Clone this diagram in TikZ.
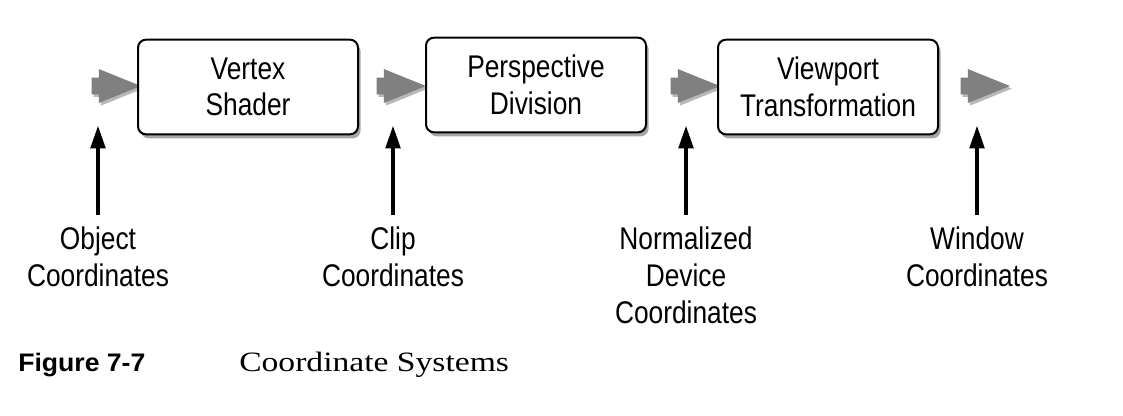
\documentclass[tikz,border=0pt]{standalone}
\usepackage{fontspec}
\setmainfont{Liberation Sans}
\newfontfamily\narrowsans[FakeStretch=0.84]{Liberation Sans}
\newfontfamily\figsans[FakeStretch=1.05]{Liberation Sans}
\newfontfamily\figserif[FakeStretch=1.2]{Liberation Serif}
\usetikzlibrary{shapes.arrows,shadows,arrows.meta}

\tikzset{
	stage/.style={draw=black, line width=1.5pt, rounded corners=6pt, fill=white,
		minimum width=165pt, minimum height=71pt, align=center,
		font=\narrowsans\fontsize{23.5}{27.5}\selectfont,
		drop shadow={shadow xshift=2pt, shadow yshift=-3pt, opacity=.35, fill=black}},
	flow/.style={single arrow, fill=black!50, draw=none,
		inner xsep=0pt, inner ysep=6pt, text height=0pt, text depth=0pt,
		minimum height=37pt, single arrow head extend=6.5pt, single arrow tip angle=44,
		drop shadow={shadow xshift=1.5pt, shadow yshift=-2pt, fill=black!28, opacity=1}},
	coordlbl/.style={align=center, anchor=north, inner xsep=0pt, inner ysep=9pt,
		font=\narrowsans\fontsize{23.5}{27.75}\selectfont},
	ptr/.style={-{Triangle[length=17pt,width=11pt]}, line width=2.5pt, shorten >=19pt}
}

\begin{document}
\begin{tikzpicture}[x=0.75pt, y=-0.75pt]
	\useasboundingbox (0,0) rectangle (1123,415);
	% pipeline
	\node[flow] (inarr) at (106,86) {};
	\node[stage] (vs) at (248,87) {Vertex\\Shader};
	\node[flow] (cliparr) at (391,86) {};
	\node[stage] (pd) at (536,85) {Perspective\\Division};
	\node[flow] (ndcarr) at (685,86) {};
	\node[stage] (vt) at (828,87) {Viewport\\Transformation};
	\node[flow] (winarr) at (975,86) {};
	% coordinate systems
	\node[coordlbl] (objlbl) at (98,215) {Object\\Coordinates};
	\node[coordlbl] (cliplbl) at (393,215) {Clip\\Coordinates};
	\node[coordlbl] (ndclbl) at (686,215) {Normalized\\Device\\Coordinates};
	\node[coordlbl] (winlbl) at (977,215) {Window\\Coordinates};
	\draw[ptr] (objlbl.north) -- (objlbl.north |- inarr.south);
	\draw[ptr] (cliplbl.north) -- (cliplbl.north |- cliparr.south);
	\draw[ptr] (ndclbl.north) -- (ndclbl.north |- ndcarr.south);
	\draw[ptr] (winlbl.north) -- (winlbl.north |- winarr.south);
	% caption
	\node[anchor=base west, inner sep=0pt, font=\figsans\bfseries\fontsize{19}{22}\selectfont] (figno) at (18,371) {Figure 7-7};
	\node[anchor=base west, inner sep=0pt, font=\figserif\fontsize{21}{24}\selectfont] (figtitle) at (239,371) {Coordinate Systems};
\end{tikzpicture}
\end{document}
